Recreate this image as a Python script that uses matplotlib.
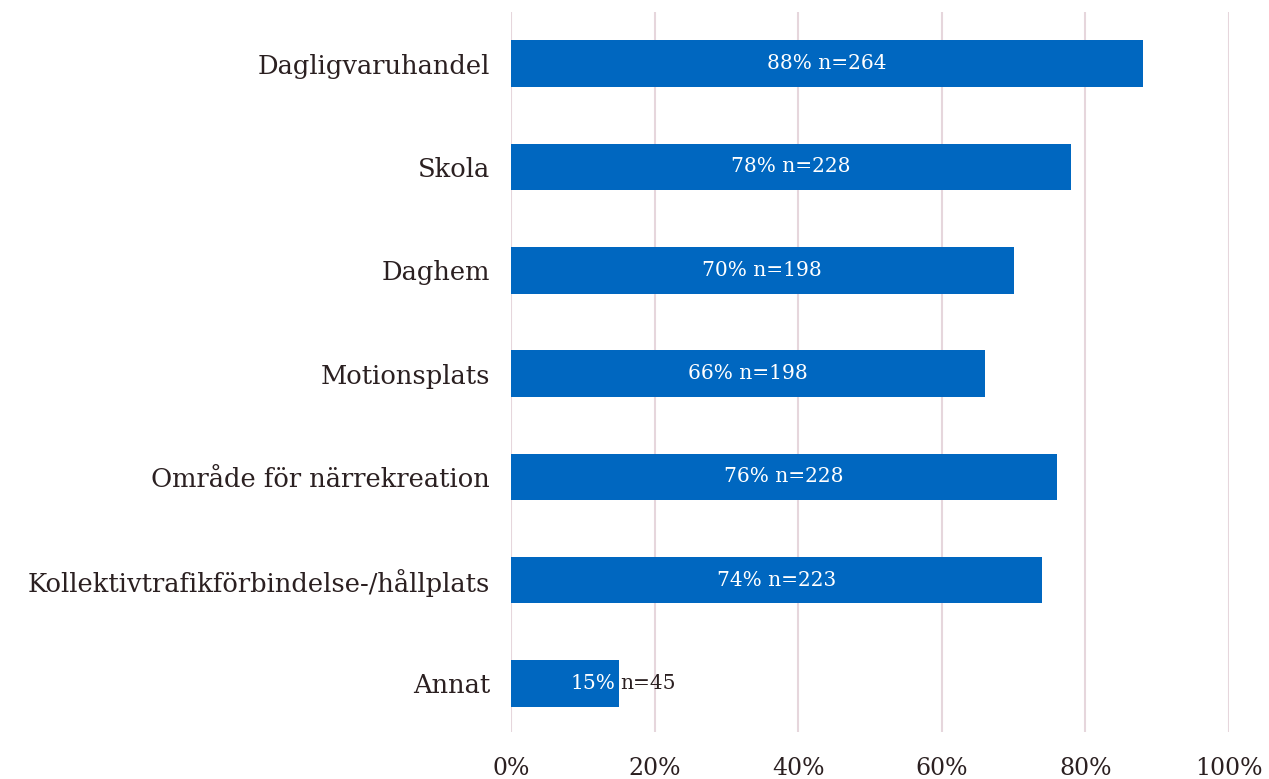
import matplotlib.pyplot as plt

# Data
kategorier = ['Dagligvaruhandel', 'Skola', 'Daghem', 'Motionsplats',
              'Område för närrekreation',
              'Kollektivtrafikförbindelse-/hållplats', 'Annat']
andel = [88, 78, 70, 66, 76, 74, 15]
antal = [264, 228, 198, 198, 228, 223, 45]
xticks = [0, 20, 40, 60, 80, 100]
xticklabels = ['0%', '20%', '40%', '60%', '80%', '100%']

bla = '#0067c0'
text_farg = '#2b2021'
grid_farg = '#e6d6dc'

plt.rcParams['font.family'] = ['DejaVu Serif']

fig = plt.figure(figsize=(12.69, 7.79), dpi=100)
ax = fig.add_axes([0.4027, 0.0603, 0.5658, 0.9243])

y = list(range(len(kategorier)))
ax.barh(y, andel, height=0.45, color=bla, zorder=2)

for i, (v, n) in enumerate(zip(andel, antal)):
    if v > 30:
        ax.text(v / 2, i, f'{v}% n={n}', ha='center', va='center',
                color='white', fontsize=14.5, zorder=3)
    else:
        ax.text(v - 0.4, i, f'{v}%', ha='right', va='center',
                color='white', fontsize=14.5, zorder=3)
        ax.text(v + 0.2, i, f'n={n}', ha='left', va='center',
                color=text_farg, fontsize=14.5, zorder=3)

ax.set_xlim(0, 100)
ax.set_ylim(6.47, -0.5)
ax.set_yticks(y)
ax.set_yticklabels(kategorier, fontsize=18.5, color=text_farg)
ax.set_xticks(xticks)
ax.set_xticklabels(xticklabels, fontsize=17, color=text_farg)
ax.tick_params(axis='y', length=0, pad=15)
ax.tick_params(axis='x', length=0, pad=18)

ax.grid(axis='x', color=grid_farg, linewidth=1.5, zorder=0)
for s in ax.spines.values():
    s.set_visible(False)

fig.savefig('out.png', dpi=100)
